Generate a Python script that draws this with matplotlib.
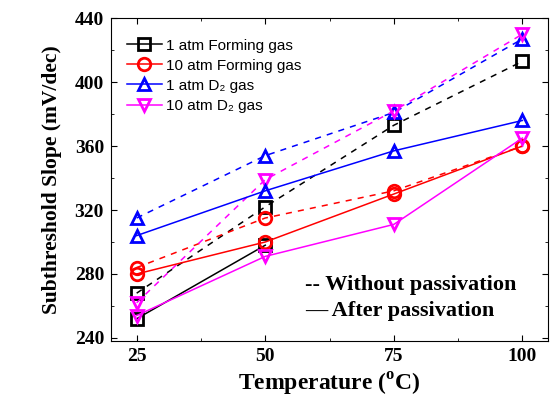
import matplotlib
matplotlib.use("Agg")
import matplotlib.pyplot as plt
from matplotlib.ticker import MultipleLocator

plt.rcParams["mathtext.fontset"] = "custom"
plt.rcParams["mathtext.rm"] = "Liberation Serif:bold"

# temperatures (C)
temps = [25, 50, 75, 100]

# without passivation (dashed)
fg1_before = [268, 322, 373, 413]
fg10_before = [284, 315, 332, 360]
d1_before = [315, 354, 381, 427]
d10_before = [262, 339, 382, 430]

# after passivation (solid)
fg1_after_t = [25, 50]
fg1_after = [252, 298]
fg10_after = [280, 300, 330, 360]
d1_after = [304, 332, 357, 376]
d10_after = [254, 291, 311, 365]

labels = ["1 atm Forming gas", "10 atm Forming gas",
          "1 atm D\u2082 gas", "10 atm D\u2082 gas"]
colors = ["black", "red", "blue", "magenta"]
markers = ["s", "o", "^", "v"]

fig = plt.figure(figsize=(5.52, 4.12), dpi=100)
ax = fig.add_axes([0.201, 0.172, 0.792, 0.784])

mk = dict(markersize=9, markerfacecolor="none", markeredgewidth=2, linewidth=1.1)

before = [fg1_before, fg10_before, d1_before, d10_before]
after_x = [fg1_after_t, temps, temps, temps]
after = [fg1_after, fg10_after, d1_after, d10_after]

for i in range(4):
    ax.plot(temps, before[i], linestyle=(0, (4, 4)), color=colors[i],
            marker=markers[i], **mk)
for i in range(4):
    ax.plot(after_x[i], after[i], linestyle="-", color=colors[i],
            marker=markers[i], label=labels[i], **mk)

ax.set_xlim(20, 105)
ax.set_ylim(238, 440)
ax.set_xticks(temps)
ax.set_yticks([240, 280, 320, 360, 400, 440])
ax.xaxis.set_minor_locator(MultipleLocator(12.5))
ax.yaxis.set_minor_locator(MultipleLocator(20))
ax.tick_params(which="both", direction="in", top=True, right=True)
ax.tick_params(which="major", length=4, width=0.8, pad=5)
ax.tick_params(which="minor", length=2, width=0.6)
for s in ax.spines.values():
    s.set_linewidth(0.8)

serif = "Liberation Serif"
for t in ax.get_xticklabels() + ax.get_yticklabels():
    t.set_fontfamily(serif)
    t.set_fontweight("bold")
    t.set_fontsize(14)

ax.set_xlabel("Temperature ($^{\\rm o}$C)", fontfamily=serif, fontweight="bold",
              fontsize=17, labelpad=4)
ax.set_ylabel("Subthreshold Slope (mV/dec)", fontfamily=serif, fontweight="bold",
              fontsize=15.5, labelpad=9)

leg = ax.legend(loc="upper left", bbox_to_anchor=(0.015, 0.965), frameon=False,
                prop={"family": ["Liberation Sans", "DejaVu Sans"], "size": 11},
                handlelength=2.3, handletextpad=0.3, labelspacing=0.4,
                borderaxespad=0.2)

ax.text(0.444, 0.173, "-- Without passivation", transform=ax.transAxes,
        fontfamily=serif, fontweight="bold", fontsize=16, va="center")
ax.text(0.444, 0.093, "\u2014 After passivation", transform=ax.transAxes,
        fontfamily=serif, fontweight="bold", fontsize=16, va="center")

fig.savefig("out.png", dpi=100)
